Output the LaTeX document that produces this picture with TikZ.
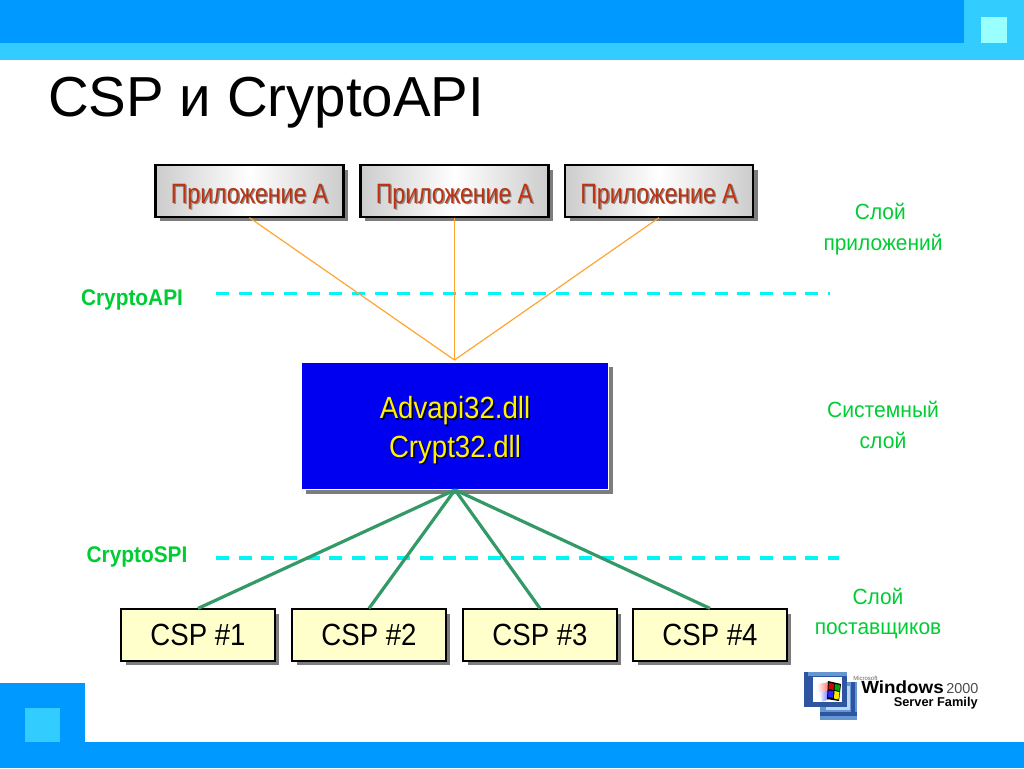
\documentclass[tikz,border=0pt]{standalone}
\usepackage{fontspec}
\setmainfont{Liberation Sans}
\usetikzlibrary{shadows}
\definecolor{barDark}{RGB}{0,153,255}
\definecolor{barLight}{RGB}{51,204,255}
\definecolor{paleSq}{RGB}{153,255,255}
\definecolor{appRed}{RGB}{190,50,15}
\definecolor{lblGreen}{RGB}{0,204,51}
\definecolor{linkGreen}{RGB}{51,153,102}
\definecolor{linkOrange}{RGB}{255,165,50}
\definecolor{dashCyan}{RGB}{0,245,245}
\definecolor{cspFill}{RGB}{255,255,204}
\definecolor{mainBlue}{RGB}{0,0,240}
\definecolor{shGray}{RGB}{125,125,125}
\definecolor{logoDark}{RGB}{45,85,160}
\definecolor{logoMid}{RGB}{100,150,210}
\definecolor{logoPale}{RGB}{190,215,240}
\newcommand{\shtext}[3]{\leavevmode\rlap{\kern1pt\raisebox{-1pt}{\textcolor{#1}{#3}}}\textcolor{#2}{#3}}
\tikzset{
 px/.style={x=0.75pt,y=-0.75pt},
 boxshadow/.style={drop shadow={shadow xshift=3.4pt,shadow yshift=-3.4pt,fill=shGray,opacity=1}},
 appbox/.style={draw=black,line width=1.6pt,minimum width=141pt,minimum height=38.5pt,inner sep=0pt,boxshadow,left color=black!20,right color=black!20,middle color=white,font=\fontsize{21}{24}\selectfont},
 cspbox/.style={draw=black,line width=1.4pt,fill=cspFill,minimum width=115pt,minimum height=38.5pt,inner sep=0pt,boxshadow,font=\fontsize{23}{26}\selectfont},
 mainbox/.style={fill=mainBlue,draw=white,line width=0.8pt,minimum width=230pt,minimum height=95pt,inner sep=0pt,boxshadow,align=center,font=\fontsize{23}{29}\selectfont},
 layerlbl/.style={text=lblGreen,align=center,font=\fontsize{16.5}{23.2}\selectfont,inner sep=0pt},
 apilbl/.style={text=lblGreen,font=\bfseries\fontsize{17}{19}\selectfont,inner sep=0pt},
 orangelink/.style={draw=linkOrange,line width=0.9pt},
 greenlink/.style={draw=linkGreen,line width=2.4pt},
 dashline/.style={draw=dashCyan,line width=2.25pt,dash pattern=on 9.75pt off 7.25pt},
 logotext/.style={inner sep=0pt},
}
\begin{document}
\begin{tikzpicture}[px]
\useasboundingbox (0,0) rectangle (1024,768);
% decoration
\fill[barLight] (0,0) rectangle (1024,60);
\fill[barDark] (0,0) rectangle (964,43);
\fill[paleSq] (981,17) rectangle (1007,43);
\fill[barDark] (0,683) rectangle (85,768);
\fill[barDark] (0,742) rectangle (1024,768);
\fill[barLight] (25,708) rectangle (60,742);
% title
\node[anchor=base west,inner sep=0pt,font=\fontsize{42.3}{46}\selectfont] (title) at (48,116) {CSP и CryptoAPI};
% dashed
\coordinate (d1a) at (216,293.5); \coordinate (d1b) at (830,293.5);
\coordinate (d2a) at (216,558.25); \coordinate (d2b) at (839,558.25);
\draw[dashline] (d1a) -- (d1b);
\draw[dashline,line width=3pt] (d2a) -- (d2b);
% nodes
\node[mainbox] (main) at (455,426) {\rule{0pt}{24pt}\shtext{black}{yellow}{\scalebox{0.9}[1]{Advapi32.dll}}\\\shtext{black}{yellow}{\scalebox{0.9}[1]{Crypt32.dll}}};
\coordinate (hub) at (454.5,360);
\newcommand{\apptext}{\raisebox{-9pt}[0pt][0pt]{\shtext{black!45}{appRed}{\scalebox{0.825}[1]{Приложение А}}}}
\node[appbox] (a1) at (249.5,191) {\apptext};
\node[appbox] (a2) at (454.5,191) {\apptext};
\node[appbox] (a3) at (659,191) {\apptext};
\node[cspbox] (c1) at (198,635) {\scalebox{0.9}[1]{CSP \#1}};
\node[cspbox] (c2) at (369,635) {\scalebox{0.9}[1]{CSP \#2}};
\node[cspbox] (c3) at (540,635) {\scalebox{0.9}[1]{CSP \#3}};
\node[cspbox] (c4) at (710,635) {\scalebox{0.9}[1]{CSP \#4}};
% links
\draw[orangelink] (a1.south) -- (hub);
\draw[orangelink] (a2.south) -- (hub);
\draw[orangelink] (a3.south) -- (hub);
\draw[greenlink] (main.south) -- (c1.north);
\draw[greenlink] (main.south) -- (c2.north);
\draw[greenlink] (main.south) -- (c3.north);
\draw[greenlink] (main.south) -- (c4.north);
% labels
\node[layerlbl] (l1) at (883,229.5) {\scalebox{0.95}[1]{Слой}\kern4pt\\\scalebox{0.95}[1]{приложений}};
\node[layerlbl] (l2) at (883,425) {\scalebox{0.96}[1]{Системный}\\\scalebox{0.96}[1]{слой}};
\node[layerlbl] (l3) at (878,613.5) {\scalebox{0.95}[1]{Слой}\\\scalebox{0.95}[1]{поставщиков}};
\node[apilbl] (capi) at (132,300) {\scalebox{0.92}[1]{CryptoAPI}};
\node[apilbl] (cspi) at (137,556.5) {\scalebox{0.92}[1]{CryptoSPI}};
% logo
\fill[logoMid] (820,682) rectangle (857,720);
\fill[logoDark] (820,712) rectangle (857,716);
\fill[logoDark] (851,682) rectangle (855,716);
\fill[logoPale] (826,686) rectangle (850,710);
\fill[logoDark] (804,672) rectangle (847,707);
\fill[logoMid] (808,672) rectangle (847,676);
\fill[white] (813,677) rectangle (842,702);
\shade[left color=white,right color=red!55] (817,684) -- (829,682) -- (829,690) -- (819,693) -- cycle;
\shade[left color=white,right color=blue!55] (819,693) -- (829,690) -- (829,699) -- (822,702) -- cycle;
\fill[black] (828,681) -- (841,684) -- (839,701) -- (827,699) -- cycle;
\fill[red!85!black] (829,682.5) -- (834,684) -- (833.5,690) -- (828.5,689) -- cycle;
\fill[green!65!black] (835,684) -- (840,685) -- (839.5,691) -- (834.5,690) -- cycle;
\fill[blue!85] (828.5,690.5) -- (833.5,691) -- (833,698) -- (828,697) -- cycle;
\fill[yellow!90!orange] (834.5,691) -- (839.5,692) -- (838.5,699.5) -- (834,698.5) -- cycle;
\node[anchor=base west,logotext,font=\fontsize{4.5}{5}\selectfont,text=black!60] (lg0) at (853,680) {Microsoft};
\node[anchor=base west,logotext,font=\bfseries\fontsize{13.2}{13.2}\selectfont] (lg1) at (861,693.5) {\scalebox{1.07}[1]{Windows}};
\node[anchor=base west,logotext,font=\fontsize{10.8}{10.8}\selectfont,text=black!70] (lg2) at (946,693.5) {2000};
\node[anchor=base east,logotext,font=\bfseries\fontsize{9.6}{9.6}\selectfont] (lg3) at (978,706) {Server Family};
\end{tikzpicture}
\end{document}
